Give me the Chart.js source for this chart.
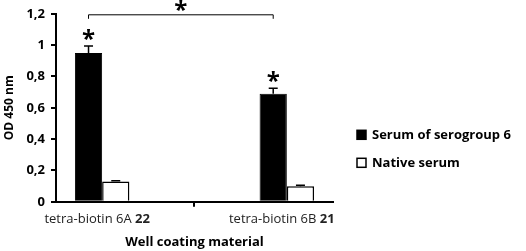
<!DOCTYPE html>
<html>
<head>
<meta charset="utf-8">
<script src="https://cdn.jsdelivr.net/npm/chart.js@4.4.1/dist/chart.umd.min.js"></script>
<style>
  html, body { margin: 0; padding: 0; background: #fff; }
  #wrap { width: 526px; height: 251px; position: relative; }
</style>
</head>
<body>
<div id="wrap"><canvas id="myChart"></canvas></div>
<script>
// data
const categoryNames = ["tetra-biotin 6A", "", "tetra-biotin 6B"];
const categoryCodes = ["22", "", "21"];
const seriesNames = ["Serum of serogroup 6", "Native serum"];
const serumValues = [0.95, null, 0.69];
const serumErrors = [0.045, null, 0.035];
const serumStars = [true, false, true];
const nativeValues = [0.13, null, 0.10];
const nativeErrors = [0.005, null, 0.005];
const yTickLabels = ["0", "0,2", "0,4", "0,6", "0,8", "1", "1,2"];

const FONT = "'Open Sans', sans-serif";

// error bars, stars and the significance bracket
const errorBars = {
  id: "errorBars",
  afterDatasetsDraw(chart) {
    const { ctx, scales } = chart;
    const y = scales.y;
    const errs = [serumErrors, nativeErrors];
    const vals = [serumValues, nativeValues];
    ctx.save();
    ctx.strokeStyle = "#000";
    ctx.lineWidth = 1.5;
    errs.forEach((errList, i) => {
      const meta = chart.getDatasetMeta(i);
      errList.forEach((e, j) => {
        if (e == null || vals[i][j] == null) return;
        const bar = meta.data[j];
        const top = y.getPixelForValue(vals[i][j] + e);
        ctx.beginPath();
        ctx.moveTo(bar.x, bar.y);
        ctx.lineTo(bar.x, top);
        ctx.moveTo(bar.x - 4.5, top);
        ctx.lineTo(bar.x + 4.5, top);
        ctx.stroke();
      });
    });

    // stars above the serum bars
    ctx.fillStyle = "#000";
    ctx.font = "bold 24px " + FONT;
    ctx.textAlign = "center";
    ctx.textBaseline = "alphabetic";
    const meta0 = chart.getDatasetMeta(0);
    const starX = [];
    serumStars.forEach((s, j) => {
      if (!s) return;
      const bar = meta0.data[j];
      const top = y.getPixelForValue(serumValues[j] + serumErrors[j]);
      ctx.fillText("*", bar.x, top + 1);
      starX.push(bar.x);
    });

    // bracket between the two serum bars
    if (starX.length === 2) {
      const by = chart.chartArea.top + 1;
      ctx.lineWidth = 1;
      ctx.beginPath();
      ctx.moveTo(starX[0], by + 4);
      ctx.lineTo(starX[0], by);
      ctx.lineTo(starX[1], by);
      ctx.lineTo(starX[1], by + 4);
      ctx.stroke();
      ctx.fillText("*", (starX[0] + starX[1]) / 2, by + 3);
    }
    ctx.restore();
  }
};

// x labels with the bold code number, plus the legend on the right
const textLayer = {
  id: "textLayer",
  afterDraw(chart) {
    const { ctx, scales, chartArea } = chart;
    const x = scales.x;
    ctx.save();
    ctx.fillStyle = "#222";
    ctx.textBaseline = "middle";
    ctx.textAlign = "left";
    const ly = x.top + 17;
    categoryNames.forEach((name, i) => {
      if (!name) return;
      const cx = x.getPixelForValue(i);
      ctx.font = "13px " + FONT;
      const w1 = ctx.measureText(name + " ").width;
      ctx.font = "bold 13px " + FONT;
      const w2 = ctx.measureText(categoryCodes[i]).width;
      const left = cx - (w1 + w2) / 2 - 5;
      ctx.font = "13px " + FONT;
      ctx.fillText(name + " ", left, ly);
      ctx.font = "bold 13px " + FONT;
      ctx.fillText(categoryCodes[i], left + w1, ly);
    });

    // legend
    const lx = chartArea.right + 24;
    const ly0 = chartArea.top + 121;
    chart.data.datasets.forEach((ds, i) => {
      const cy = ly0 + i * 28;
      ctx.fillStyle = ds.backgroundColor;
      ctx.strokeStyle = ds.borderColor;
      ctx.lineWidth = 1.5;
      ctx.fillRect(lx, cy - 4.5, 9, 9);
      ctx.strokeRect(lx, cy - 4.5, 9, 9);
      ctx.fillStyle = "#000";
      ctx.font = "bold 13px " + FONT;
      ctx.fillText(ds.label, lx + 15, cy);
    });
    ctx.restore();
  }
};

const data = {
  labels: categoryNames.map((n, i) => (n + " " + categoryCodes[i]).trim()),
  datasets: [
    {
      label: seriesNames[0],
      data: serumValues,
      backgroundColor: "#000",
      borderColor: "#000",
      borderWidth: 1,
      categoryPercentage: 0.59,
      barPercentage: 1.0
    },
    {
      label: seriesNames[1],
      data: nativeValues,
      backgroundColor: "#fff",
      borderColor: "#000",
      borderWidth: 1.5,
      categoryPercentage: 0.59,
      barPercentage: 1.0
    }
  ]
};

const config = {
  type: "bar",
  data,
  options: {
    responsive: true,
    maintainAspectRatio: false,
    animation: false,
    layout: { padding: { top: 6, right: 193, left: 2, bottom: 1 } },
    plugins: {
      legend: { display: false },
      tooltip: { enabled: false }
    },
    scales: {
      x: {
        offset: true,
        grid: { display: true, drawOnChartArea: false, offset: true, tickLength: 5, color: "#000", lineWidth: 2 },
        border: { color: "#000", width: 2 },
        ticks: { color: "rgba(0,0,0,0)", font: { family: FONT, size: 13 }, maxRotation: 0, padding: 2 },
        title: {
          display: true,
          text: "Well coating material",
          color: "#000",
          font: { family: FONT, size: 13, weight: "bold" },
          padding: { top: 8, bottom: 0 }
        }
      },
      y: {
        min: 0,
        max: 1.2,
        grid: { display: true, drawOnChartArea: false, tickLength: 5, color: "#000", lineWidth: 2 },
        border: { color: "#000", width: 2 },
        ticks: {
          stepSize: 0.2,
          color: "#000",
          padding: 6,
          font: { family: FONT, size: 13, weight: "bold" },
          callback: (v, i) => yTickLabels[i]
        },
        title: {
          display: true,
          text: "OD 450 nm",
          color: "#000",
          font: { family: FONT, size: 12, weight: "bold" },
          padding: { top: 0, bottom: 4 }
        }
      }
    }
  },
  plugins: [errorBars, textLayer]
};

Promise.all([
  document.fonts.load("13px 'Open Sans'"),
  document.fonts.load("bold 13px 'Open Sans'")
]).catch(() => {}).then(() => {
  new Chart(document.getElementById("myChart"), config);
});
</script>
</body>
</html>
